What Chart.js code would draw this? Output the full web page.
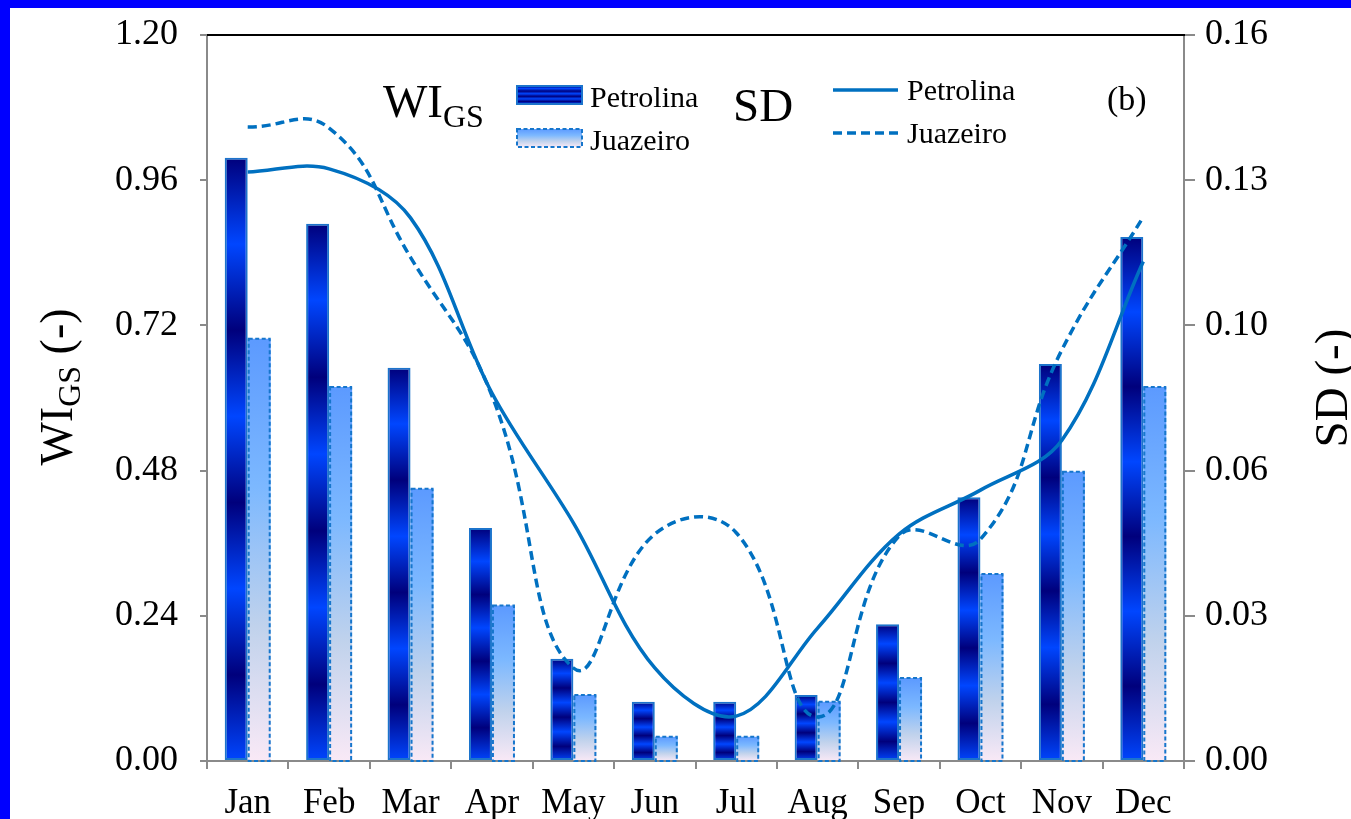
<!DOCTYPE html>
<html>
<head>
<meta charset="utf-8">
<script src="https://cdn.jsdelivr.net/npm/chart.js@4.4.1/dist/chart.umd.min.js"></script>
<style>
  html, body { margin: 0; padding: 0; background: #ffffff; overflow: hidden; }
  canvas { display: block; }
</style>
</head>
<body>
<canvas id="chart" width="1351" height="819"></canvas>
<script>
// Monthly WI_GS (bars, left axis) and SD (lines, right axis)
const months = ['Jan', 'Feb', 'Mar', 'Apr', 'May', 'Jun', 'Jul', 'Aug', 'Sep', 'Oct', 'Nov', 'Dec'];

const wiPetrolina = [0.997, 0.888, 0.650, 0.385, 0.169, 0.098, 0.098, 0.109, 0.226, 0.436, 0.656, 0.866];
const wiJuazeiro  = [0.698, 0.618, 0.450, 0.257, 0.109, 0.040, 0.040, 0.098, 0.137, 0.309, 0.478, 0.618];

const sdPetrolina = [0.1298, 0.1305, 0.1197, 0.0811, 0.0525, 0.0205, 0.0099, 0.0293, 0.0500, 0.0597, 0.0707, 0.1101];
const sdJuazeiro  = [0.1397, 0.1395, 0.1110, 0.0805, 0.0205, 0.0500, 0.0503, 0.0097, 0.0496, 0.0489, 0.0906, 0.1199];

const wiTicks = { min: 0, max: 1.2, step: 0.24 };
const sdTicks = { min: 0, max: 0.16, step: 0.032 };

const SERIF = '"Liberation Serif", "Times New Roman", Times, serif';
const LINE_BLUE = '#0070c0';
const AXIS_GREY = '#8a8a8a';
const NAVY = '#00007c';
const BRIGHT = '#0046ff';

// Alternating navy / bright-blue bands used for the Petrolina bars
function bandGradient(ctx, y0, y1) {
  const g = ctx.createLinearGradient(0, y0, 0, y1);
  for (let i = 0; i <= 7; i++) g.addColorStop(i / 7, i % 2 ? BRIGHT : NAVY);
  return g;
}
// Light blue fading to pale pink for the Juazeiro bars
function fadeGradient(ctx, y0, y1) {
  const g = ctx.createLinearGradient(0, y0, 0, y1);
  g.addColorStop(0, '#5c9aff');
  g.addColorStop(0.35, '#7cb8ff');
  g.addColorStop(0.68, '#c0d2ec');
  g.addColorStop(1, '#f9e9f6');
  return g;
}

function barFill(kind) {
  return (context) => {
    const chart = context.chart;
    const ys = chart.scales.y;
    if (context.type !== 'data' || !ys || !chart.chartArea) return kind === 'band' ? NAVY : '#7cb8ff';
    const top = ys.getPixelForValue(context.raw);
    const base = ys.getPixelForValue(0);
    return kind === 'band' ? bandGradient(chart.ctx, top, base) : fadeGradient(chart.ctx, top, base);
  };
}

function text(c, str, x, y, size, align) {
  c.font = size + 'px ' + SERIF;
  c.textAlign = align || 'left';
  c.textBaseline = 'alphabetic';
  c.fillStyle = '#000';
  c.fillText(str, x, y);
  return c.measureText(str).width;
}

// Dashed outline for the Juazeiro bars
const dashedBars = {
  id: 'dashedBars',
  afterDatasetDraw(chart, args) {
    if (args.index !== 1) return;
    const c = chart.ctx;
    c.save();
    c.strokeStyle = '#1676cc';
    c.lineWidth = 2;
    c.setLineDash([4, 2.5]);
    args.meta.data.forEach((bar) => {
      const p = bar.getProps(['x', 'y', 'base', 'width'], true);
      c.strokeRect(p.x - p.width / 2 + 1, p.y, p.width - 2, p.base - p.y + 1);
    });
    c.restore();
  }
};

// Frame, axis titles and the in-plot legend
const decorations = {
  id: 'decorations',
  afterDraw(chart) {
    const c = chart.ctx;
    const a = chart.chartArea;
    c.save();

    // top edge of the plot
    c.strokeStyle = '#000';
    c.lineWidth = 2;
    c.beginPath();
    c.moveTo(a.left, a.top);
    c.lineTo(a.right + 1, a.top);
    c.stroke();

    // left axis title: WI_GS (-)
    c.save();
    c.translate(72, 387);
    c.rotate(-Math.PI / 2);
    c.font = '46px ' + SERIF;
    const w1 = c.measureText('WI').width;
    c.font = '32px ' + SERIF;
    const w2 = c.measureText('GS').width;
    c.font = '46px ' + SERIF;
    const w3 = c.measureText(' (-)').width;
    let sx = -(w1 + w2 + w3) / 2;
    sx += text(c, 'WI', sx, 0, 46);
    sx += text(c, 'GS', sx, 8, 32);
    text(c, ' (-)', sx, 0, 46);
    c.restore();

    // right axis title: SD (-)
    c.save();
    c.translate(1347, 388);
    c.rotate(-Math.PI / 2);
    text(c, 'SD (-)', 0, 0, 47, 'center');
    c.restore();

    // legend: bars
    let lx = 383;
    lx += text(c, 'WI', lx, 117, 47);
    text(c, 'GS', lx, 127, 32);

    c.fillStyle = bandGradient(c, 86, 104);
    c.fillRect(517, 86, 65, 18);
    c.strokeStyle = '#1c74cc';
    c.lineWidth = 2;
    c.strokeRect(517, 86, 65, 18);
    text(c, 'Petrolina', 590, 107, 30);

    c.fillStyle = fadeGradient(c, 129, 147);
    c.fillRect(517, 129, 65, 18);
    c.setLineDash([4, 2.5]);
    c.strokeStyle = '#1676cc';
    c.strokeRect(517, 129, 65, 18);
    c.setLineDash([]);
    text(c, 'Juazeiro', 590, 150, 30);

    // legend: lines
    text(c, 'SD', 733, 121, 47);
    c.strokeStyle = LINE_BLUE;
    c.lineWidth = 3.5;
    c.beginPath();
    c.moveTo(833, 90);
    c.lineTo(898, 90);
    c.stroke();
    text(c, 'Petrolina', 907, 100, 30);
    c.setLineDash([9, 5]);
    c.beginPath();
    c.moveTo(833, 133);
    c.lineTo(898, 133);
    c.stroke();
    c.setLineDash([]);
    text(c, 'Juazeiro', 907, 143, 30);

    text(c, '(b)', 1107, 110, 34);

    // blue frame along the top and left edges
    c.fillStyle = '#0000ff';
    c.fillRect(0, 0, chart.width, 8);
    c.fillRect(0, 0, 10, chart.height);
    c.restore();
  }
};

const tickFont = { family: SERIF, size: 36 };

// keep tick labels from pushing the plot area inward
function fixVertical(width) {
  return (s) => {
    s.width = width;
    s.paddingTop = 0;
    s.paddingBottom = 0;
  };
}

new Chart(document.getElementById('chart'), {
  type: 'bar',
  data: {
    labels: months,
    datasets: [
      {
        label: 'WI_GS Petrolina',
        data: wiPetrolina,
        yAxisID: 'y',
        order: 1,
        backgroundColor: barFill('band'),
        borderColor: '#1c74cc',
        borderWidth: 2,
        borderSkipped: false,
        categoryPercentage: 0.565,
        barPercentage: 1.0
      },
      {
        label: 'WI_GS Juazeiro',
        data: wiJuazeiro,
        yAxisID: 'y',
        order: 1,
        backgroundColor: barFill('fade'),
        borderWidth: 0,
        categoryPercentage: 0.565,
        barPercentage: 1.0
      },
      {
        type: 'line',
        label: 'SD Petrolina',
        data: sdPetrolina,
        yAxisID: 'y1',
        order: 0,
        borderColor: LINE_BLUE,
        borderWidth: 3.5,
        pointRadius: 0,
        fill: false,
        tension: 0.35
      },
      {
        type: 'line',
        label: 'SD Juazeiro',
        data: sdJuazeiro,
        yAxisID: 'y1',
        order: 0,
        borderColor: LINE_BLUE,
        borderWidth: 3.5,
        borderDash: [9, 5],
        pointRadius: 0,
        fill: false,
        tension: 0.45
      }
    ]
  },
  options: {
    responsive: false,
    animation: false,
    events: [],
    layout: { padding: { top: 35, left: 0, right: 0, bottom: 0 } },
    plugins: { legend: { display: false }, tooltip: { enabled: false } },
    scales: {
      x: {
        offset: true,
        grid: { offset: true, drawOnChartArea: false, tickLength: 8, color: AXIS_GREY, lineWidth: 2 },
        border: { color: AXIS_GREY, width: 2 },
        ticks: { font: { family: SERIF, size: 35 }, color: '#000', padding: 14, maxRotation: 0, autoSkip: false },
        afterFit(s) { s.height = 58; s.paddingLeft = 0; s.paddingRight = 0; }
      },
      y: {
        position: 'left',
        min: wiTicks.min,
        max: wiTicks.max,
        grid: { drawOnChartArea: false, tickLength: 7, color: AXIS_GREY, lineWidth: 2 },
        border: { color: AXIS_GREY, width: 2 },
        ticks: { stepSize: wiTicks.step, font: tickFont, color: '#000', padding: 22, callback: (v) => v.toFixed(2) },
        afterFit: fixVertical(207)
      },
      y1: {
        position: 'right',
        min: sdTicks.min,
        max: sdTicks.max,
        grid: { drawOnChartArea: false, tickLength: 11, color: AXIS_GREY, lineWidth: 2 },
        border: { color: AXIS_GREY, width: 2 },
        ticks: { stepSize: sdTicks.step, font: tickFont, color: '#000', padding: 10, callback: (v) => v.toFixed(2) },
        afterFit: fixVertical(167)
      }
    }
  },
  plugins: [dashedBars, decorations]
});
</script>
</body>
</html>
